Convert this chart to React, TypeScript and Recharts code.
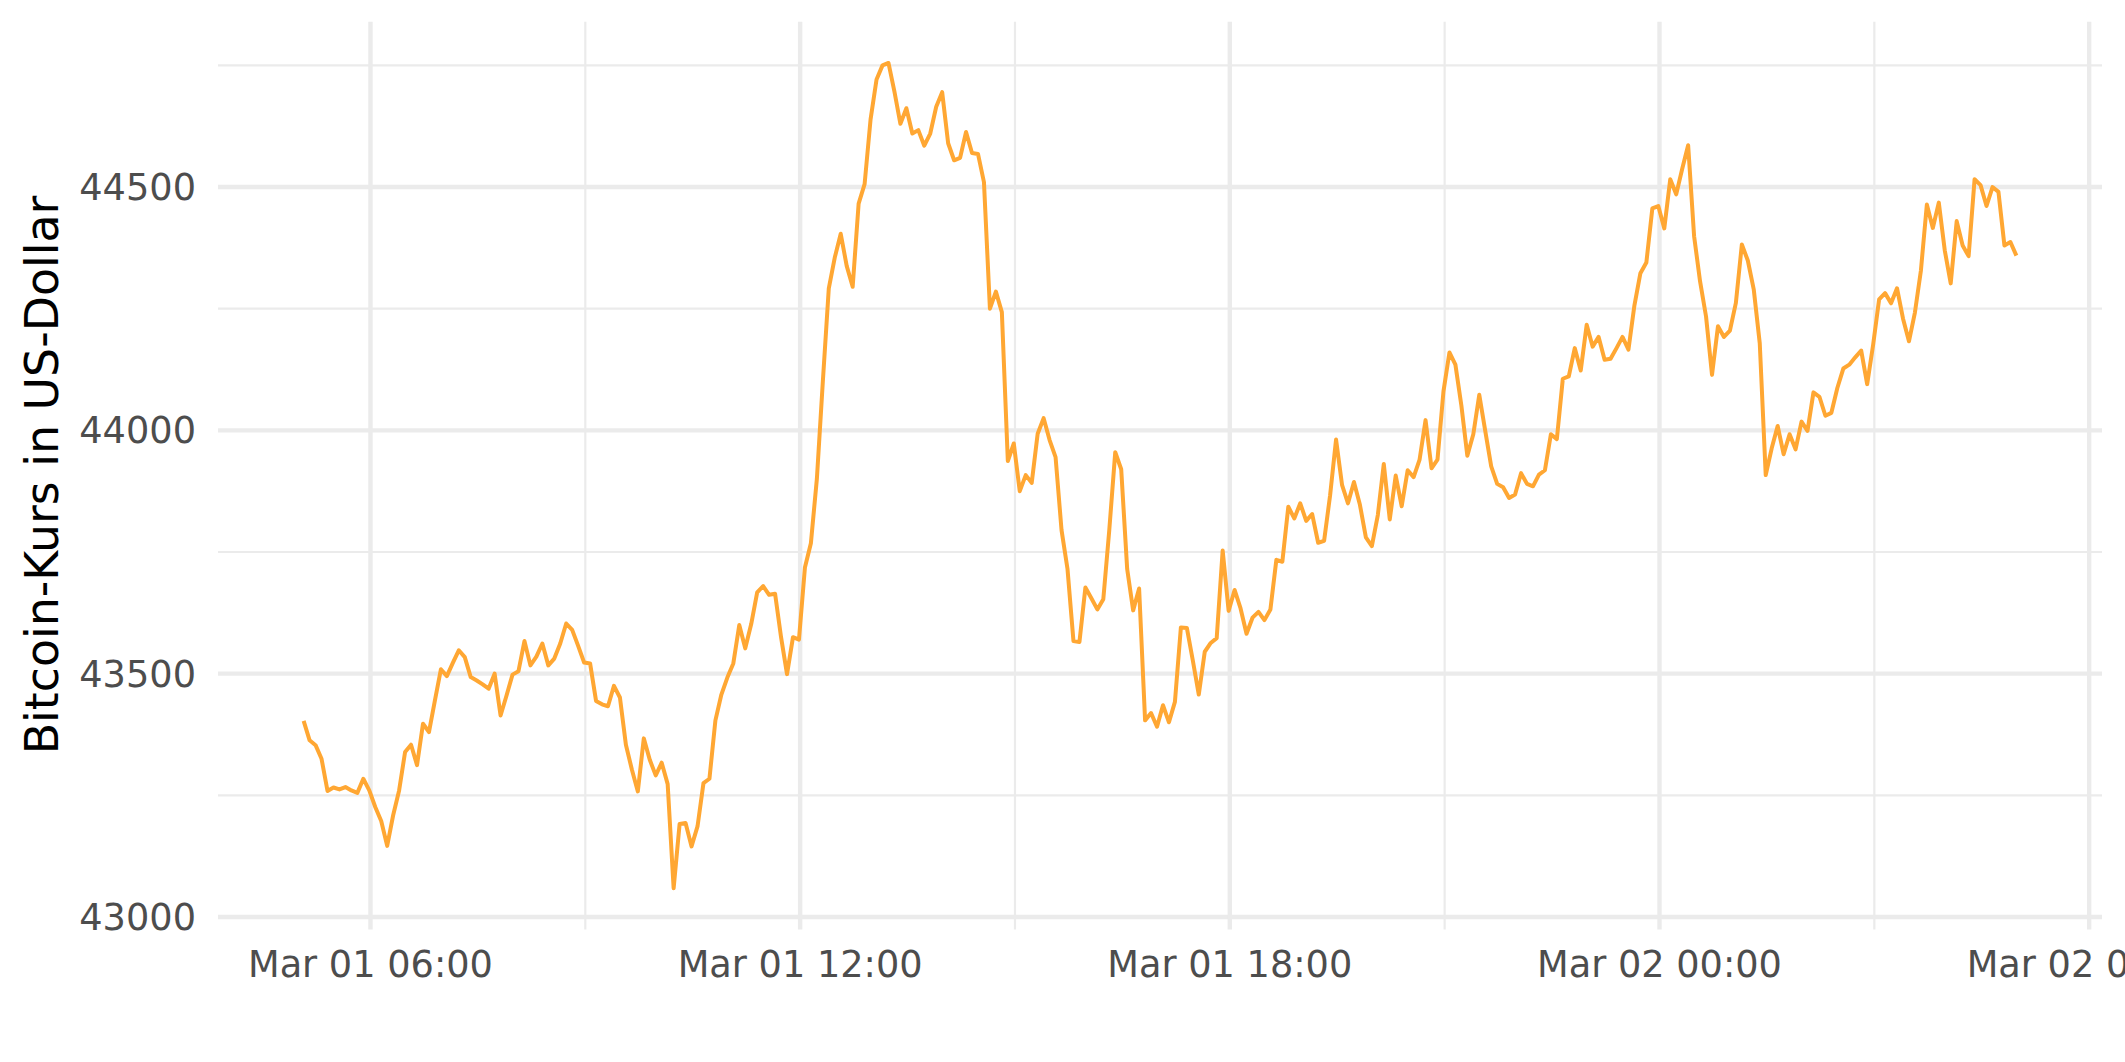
import { LineChart, Line, XAxis, YAxis, CartesianGrid } from 'recharts'

// Bitcoin-Kurs, 5-Minuten-Werte vom 01.03. 05:04 bis 02.03. 04:59
const startMinute = 5 * 60 + 4 // Minuten seit Mar 01 00:00
const stepMinutes = 5

const prices = [
  43403, 43363, 43353, 43325, 43259, 43266, 43262, 43267, 43260, 43255, 43284, 43260,
  43226, 43197, 43146, 43209, 43260, 43339, 43354, 43312, 43397, 43380, 43445, 43509,
  43495, 43522, 43548, 43534, 43493, 43486, 43478, 43469, 43500, 43414, 43455, 43498,
  43505, 43567, 43517, 43535, 43562, 43517, 43531, 43562, 43603, 43590, 43557, 43523,
  43521, 43444, 43437, 43433, 43475, 43451, 43354, 43303, 43258, 43367, 43323, 43291,
  43317, 43273, 43059, 43191, 43193, 43145, 43186, 43275, 43284, 43404, 43457, 43492,
  43521, 43600, 43552, 43602, 43667, 43680, 43662, 43664, 43575, 43499, 43575, 43570,
  43718, 43768, 43900, 44100, 44292, 44355, 44404, 44338, 44295, 44466, 44506, 44639,
  44721, 44750, 44755, 44696, 44630, 44662, 44610, 44617, 44585, 44610, 44665, 44695,
  44590, 44555, 44560, 44613, 44570, 44568, 44510, 44250, 44285, 44243, 43937, 43973,
  43875, 43908, 43892, 43993, 44025, 43980, 43945, 43795, 43715, 43567, 43565, 43677,
  43655, 43632, 43653, 43795, 43955, 43920, 43715, 43630, 43675, 43404, 43419, 43391,
  43435, 43400, 43442, 43595, 43594, 43527, 43457, 43545, 43563, 43573, 43753, 43629,
  43672, 43634, 43582, 43615, 43627, 43610, 43632, 43734, 43730, 43843, 43819, 43850,
  43814, 43828, 43769, 43773, 43866, 43981, 43888, 43850, 43894, 43847, 43780, 43762,
  43826, 43931, 43817, 43907, 43844, 43918, 43904, 43940, 44021, 43922, 43940, 44080,
  44160, 44135, 44051, 43948, 43992, 44073, 43999, 43926, 43890, 43883, 43861, 43868,
  43912, 43890, 43885, 43909, 43918, 43992, 43982, 44106, 44111, 44169, 44123, 44217,
  44172, 44192, 44145, 44147, 44169, 44192, 44166, 44257, 44323, 44345, 44456, 44461,
  44415, 44516, 44485, 44537, 44586, 44399, 44306, 44234, 44114, 44214, 44192, 44205,
  44262, 44382, 44349, 44289, 44179, 43908, 43963, 44009, 43951, 43992, 43961, 44018,
  43999, 44078, 44069, 44030, 44036, 44087, 44127, 44135, 44150, 44164, 44095, 44176,
  44269, 44282, 44261, 44292, 44230, 44183, 44242, 44328, 44464, 44416, 44468, 44370,
  44302, 44430, 44380, 44358, 44516, 44504, 44461, 44500, 44490, 44380, 44387, 44359,
]

const xTicks = [360, 720, 1080, 1440, 1800]
const xTickLabels = ['Mar 01 06:00', 'Mar 01 12:00', 'Mar 01 18:00', 'Mar 02 00:00', 'Mar 02 06:00']
const xMinorTicks = [540, 900, 1260, 1620]
const yTicks = [43000, 43500, 44000, 44500]
const yMinorTicks = [43250, 43750, 44250, 44750]

const data = prices.map((price, i) => ({ t: startMinute + i * stepMinutes, price }))

// ggplot-Stil: 5 % Puffer auf beiden Achsen
const tMin = data[0].t
const tMax = data[data.length - 1].t
const tPad = (tMax - tMin) * 0.05
const pMin = Math.min(...prices)
const pMax = Math.max(...prices)
const pPad = (pMax - pMin) * 0.05

const FONT = '"DejaVu Sans", sans-serif'
const GRID = '#EBEBEB'
const tickStyle = { fill: '#4D4D4D', fontSize: 36.7, fontFamily: FONT }

export default function App() {
  return (
    <div style={{ position: 'absolute', left: 0, top: 0, width: 2125, height: 1062, background: '#fff' }}>
      <LineChart
        width={2125}
        height={1062}
        data={data}
        margin={{ top: 21.7, right: 23, bottom: 72.5, left: 0 }}
      >
        <CartesianGrid
          stroke={GRID}
          strokeWidth={2.2}
          horizontalValues={yMinorTicks}
          verticalValues={xMinorTicks}
        />
        <CartesianGrid
          stroke={GRID}
          strokeWidth={4.4}
          horizontalValues={yTicks}
          verticalValues={xTicks}
        />
        <XAxis
          dataKey="t"
          type="number"
          domain={[tMin - tPad, tMax + tPad]}
          ticks={xTicks}
          interval={0}
          allowDataOverflow
          tickFormatter={(v) => xTickLabels[xTicks.indexOf(v)] ?? ''}
          tick={tickStyle}
          axisLine={false}
          tickLine={false}
          tickSize={0}
          tickMargin={21}
          height={60}
        />
        <YAxis
          type="number"
          domain={[pMin - pPad, pMax + pPad]}
          ticks={yTicks}
          interval={0}
          allowDataOverflow
          tick={tickStyle}
          axisLine={false}
          tickLine={false}
          tickSize={0}
          tickMargin={22}
          width={218}
        />
        <Line
          type="linear"
          dataKey="price"
          stroke="#FFA733"
          strokeWidth={4}
          strokeLinejoin="round"
          dot={false}
          isAnimationActive={false}
        />
      </LineChart>
      <svg
        width={2125}
        height={1062}
        style={{ position: 'absolute', left: 0, top: 0, pointerEvents: 'none' }}
      >
        <text
          transform="translate(58, 475) rotate(-90)"
          textAnchor="middle"
          fontFamily={FONT}
          fontSize={45.8}
          fill="#000"
        >
          Bitcoin-Kurs in US-Dollar
        </text>
      </svg>
    </div>
  )
}
